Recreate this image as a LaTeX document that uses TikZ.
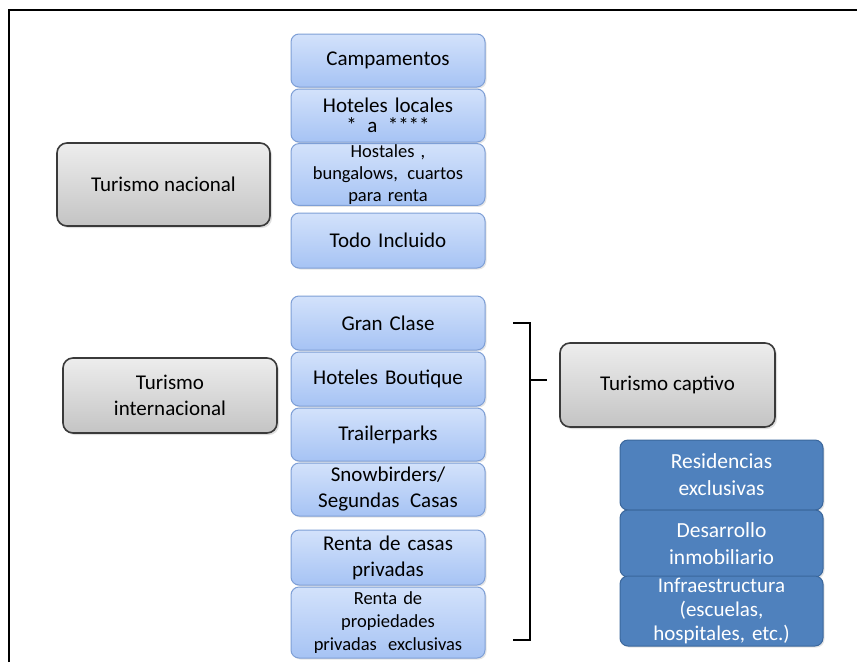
\documentclass[tikz,border=0pt]{standalone}
\usepackage{fontspec}
\setmainfont{Carlito}
\usetikzlibrary{shadows}
\definecolor{grayborder}{HTML}{3A3A3A}
\definecolor{graytop}{HTML}{EDEDED}
\definecolor{graybot}{HTML}{C4C4C4}
\definecolor{bluetop}{HTML}{D3E2FB}
\definecolor{bluebot}{HTML}{A6C3F4}
\definecolor{blueborder}{HTML}{7E9FD6}
\definecolor{darkblue}{HTML}{4F81BD}
\definecolor{darkborder}{HTML}{3B679C}
\tikzset{
  graybox/.style={draw=grayborder, line width=1.6pt, rounded corners=10pt,
    top color=graytop, bottom color=graybot, align=center, inner sep=2pt,
    drop shadow={opacity=0.25, shadow xshift=2pt, shadow yshift=-2pt},
    font=\fontsize{21}{26}\selectfont},
  bluebox/.style={draw=blueborder, line width=1pt, rounded corners=8pt,
    top color=bluetop, bottom color=bluebot, align=center, inner sep=1pt,
    minimum width=194pt, text width=190pt,
    drop shadow={opacity=0.2, shadow xshift=1.5pt, shadow yshift=-1.5pt},
    font=\fontsize{21}{26}\selectfont},
  darkbox/.style={draw=darkborder, line width=1pt, rounded corners=8pt,
    fill=darkblue, text=white, align=center, inner sep=1pt,
    minimum width=203pt, text width=199pt,
    drop shadow={opacity=0.2, shadow xshift=1.5pt, shadow yshift=-1.5pt},
    font=\fontsize{21.5}{27}\selectfont},
  bracketline/.style={line width=2.6pt, black}
}
\begin{document}
\begin{tikzpicture}[x=1pt,y=-1pt]
\useasboundingbox (0,0) rectangle (857,662);
\fill[white] (0,0) rectangle (857,662);
\draw[line width=2pt] (9,662) -- (9,10) -- (857,10);

% left category boxes
\node[graybox, minimum width=213pt, minimum height=83pt] (nac) at (163.5,184.5) {Turismo nacional};
\node[graybox, minimum width=214pt, minimum height=75pt] (int) at (170,395.5) {Turismo\\internacional};
\node[graybox, minimum width=215pt, minimum height=84pt] (cap) at (667.5,385) {Turismo captivo};

% national column
\node[bluebox, minimum height=53pt] (camp) at (388,60.5) {Campamentos};
\node[bluebox, minimum height=53pt] (hotl) at (388,115.5) {Hoteles locales\\[-6pt]* \,a\, ****};
\node[bluebox, minimum height=61pt, font=\fontsize{18.5}{22}\selectfont] (host) at (388,174.5) {Hostales ,\\bungalows, \,cuartos\\para renta};
\node[bluebox, minimum height=55pt] (todo) at (388,240.5) {Todo Incluido};

% international column
\node[bluebox, minimum height=54pt] (gran) at (388,323) {Gran Clase};
\node[bluebox, minimum height=54pt] (bout) at (388,379) {Hoteles Boutique};
\node[bluebox, minimum height=53pt] (trai) at (388,434.5) {Trailerparks};
\node[bluebox, minimum height=53pt] (snow) at (388,489.5) {Snowbirders/\\Segundas \,Casas};
\node[bluebox, minimum height=55pt] (rcas) at (388,557.5) {Renta de casas\\privadas};
\node[bluebox, minimum height=71pt, font=\fontsize{18.5}{23}\selectfont] (rpro) at (388,622.5) {Renta de\\propiedades\\privadas \;exclusivas};

% captive column
\node[darkbox, minimum height=70pt] (resi) at (721.5,475) {Residencias\\exclusivas};
\node[darkbox, minimum height=67pt] (desa) at (721.5,543.5) {Desarrollo\\inmobiliario};
\node[darkbox, minimum height=70pt, font=\fontsize{21}{24}\selectfont] (infr) at (721.5,611) {Infraestructura\\(escuelas,\\hospitales, etc.)};

% bracket
\coordinate (bt) at (530,323);
\coordinate (bb) at (530,640);
\coordinate (bm) at (530,380);
\coordinate (bp) at (547,380);
\draw[bracketline, line cap=butt] (513,323) -- (bt) -- (bb) -- (513,640);
\draw[bracketline] (bm) -- (bp);
\end{tikzpicture}
\end{document}
